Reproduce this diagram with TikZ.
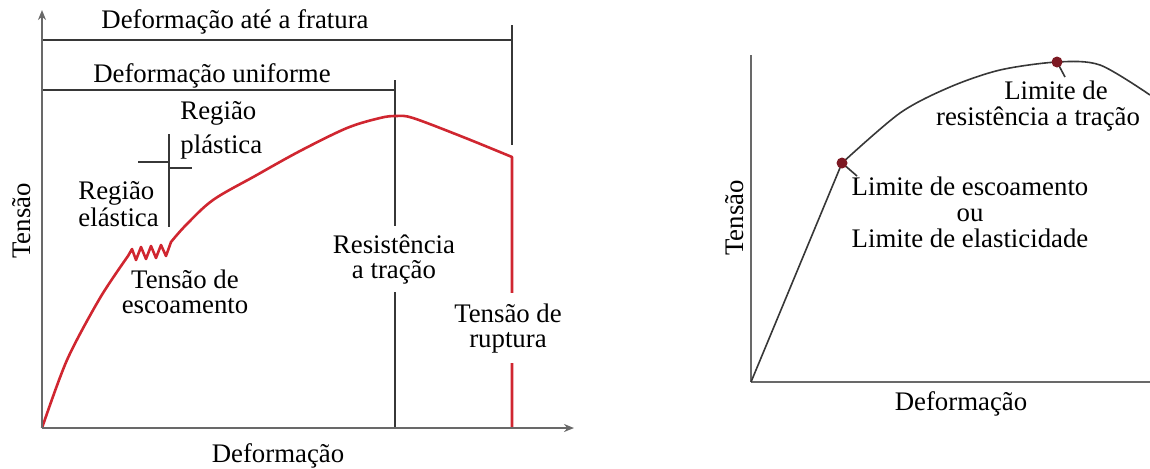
\documentclass[tikz,border=0pt]{standalone}
\usepackage{fontspec}
\setmainfont{Liberation Serif}
\usetikzlibrary{positioning, arrows.meta}
\definecolor{curvaverm}{RGB}{208,38,48}
\definecolor{eixocinza}{RGB}{105,105,105}
\definecolor{linhacinza}{RGB}{55,55,55}
\definecolor{pontoverm}{RGB}{125,25,35}

\begin{document}
\begin{tikzpicture}[x=0.5pt, y=-0.5pt, >={Stealth[length=5pt, width=4pt]}]
    % Estilos
    \tikzstyle{eixo}=[draw=eixocinza, line width=1.4pt]
    \tikzstyle{cota}=[draw=linhacinza, line width=0.8pt]
    \tikzstyle{curva}=[draw=curvaverm, line width=1.3pt, line join=round]
    \tikzstyle{curvab}=[draw=linhacinza, line width=0.8pt]
    \tikzstyle{ponto}=[fill=pontoverm]
    \tikzstyle{rotulo}=[inner sep=0pt, anchor=base, align=center, font=\fontsize{13.4pt}{12.5pt}\selectfont]

    \useasboundingbox (0,0) rectangle (1150,468);

    % Grafico 1 (pontos)
    \coordinate (O1) at (42,428);
    \coordinate (ytopo1) at (42,10);
    \coordinate (xfim1) at (574,428);
    \coordinate (fratE) at (42,40);
    \coordinate (fratD) at (512,40);
    \coordinate (fratTopo) at (512,25);
    \coordinate (fratBase) at (512,145);
    \coordinate (unifE) at (42,90);
    \coordinate (unifD) at (395,90);
    \coordinate (unifTopo) at (395,80);
    \coordinate (unifBase) at (395,428);
    \coordinate (rupBase) at (512,428);
    \coordinate (divTopo) at (169,134);
    \coordinate (divBase) at (169,227);
    \coordinate (divE) at (138,162);
    \coordinate (divM1) at (169,162);
    \coordinate (divM2) at (169,168);
    \coordinate (divD) at (192,168);

    % Cotas
    \draw[cota] (fratE) -- (fratD);
    \draw[cota] (fratTopo) -- (fratBase);
    \draw[cota] (unifE) -- (unifD);
    \draw[cota] (unifTopo) -- (unifBase);
    \draw[cota] (divTopo) -- (divBase);
    \draw[cota] (divE) -- (divM1);
    \draw[cota] (divM2) -- (divD);

    % Curva tensao-deformacao
    \draw[curva] plot[smooth] coordinates {(42,428) (67,360) (100,298) (128,256)}
        -- (132,249) -- (136,260) -- (141,247) -- (146,259) -- (151,246)
        -- (156,258) -- (161,245) -- (166,256) -- (171,242)
        -- plot[smooth, tension=0.55] coordinates {(171,242) (186,225) (213,200) (255,176)
            (300,151) (347,128) (380,118) (396,116) (413,118) (463,137) (512,157)}
        -- (rupBase);

    % Eixos
    \draw[eixo, ->] (O1) -- (ytopo1);
    \draw[eixo, ->] (O1) -- (xfim1);

    % Rotulos (base = ultima linha)
    \node[rotulo] (fratura) at (235,28) {Deformação até a fratura};
    \node[rotulo] (uniforme) at (212,82) {Deformação uniforme};
    \node[rotulo, anchor=base west, align=left, font=\fontsize{13.4pt}{17pt}\selectfont] (plastica) at (180,153) {Região\\plástica};
    \node[rotulo, anchor=base west, align=left, font=\fontsize{13.4pt}{13.5pt}\selectfont] (elastica) at (78,226) {Região\\elástica};
    \node[rotulo] (escoamento) at (185,313) {Tensão de\\escoamento};
    \node[rotulo, fill=white, inner ysep=4pt] (resistencia) at (394,278) {Resistência\\a tração};
    \node[rotulo, fill=white, inner ysep=5pt] (ruptura) at (508,347) {Tensão de\\ruptura};
    \node[rotulo] (defA) at (278,462) {Deformação};
    \node[rotulo, rotate=90] (tensaoA) at (31,221) {Tensão};

    % Grafico 2 (pontos)
    \coordinate (O2) at (751,382);
    \coordinate (ytopo2) at (751,55);
    \coordinate (xfim2) at (1150,382);
    \coordinate (escoa) at (842,163);
    \coordinate (maximo) at (1057,62);
    \coordinate (guiaE) at (857,176);
    \coordinate (guiaM) at (1065,77);

    % Eixos e curva
    \draw[eixo, line width=1pt] (O2) -- (ytopo2);
    \draw[eixo, line width=1pt] (O2) -- (xfim2);
    \draw[curvab] (O2) -- (escoa)
        -- plot[smooth] coordinates {(842,163) (900,113) (950,87) (1000,70) (1057,62) (1100,65) (1150,95)};
    \draw[curvab] (escoa) -- (guiaE);
    \draw[curvab] (maximo) -- (guiaM);
    \fill[ponto] (escoa) circle (5.5);
    \fill[ponto] (maximo) circle (5.5);

    % Rotulos
    \node[rotulo] (lrt1) at (1056,99) {Limite de};
    \node[rotulo] (lrt2) at (1038,125) {resistência a tração};
    \node[rotulo, font=\fontsize{13.4pt}{12.8pt}\selectfont] (limites) at (970,247) {Limite de escoamento\\ou\\Limite de elasticidade};
    \node[rotulo] (defB) at (961,410) {Deformação};
    \node[rotulo, rotate=90] (tensaoB) at (743,218) {Tensão};

\end{tikzpicture}
\end{document}
